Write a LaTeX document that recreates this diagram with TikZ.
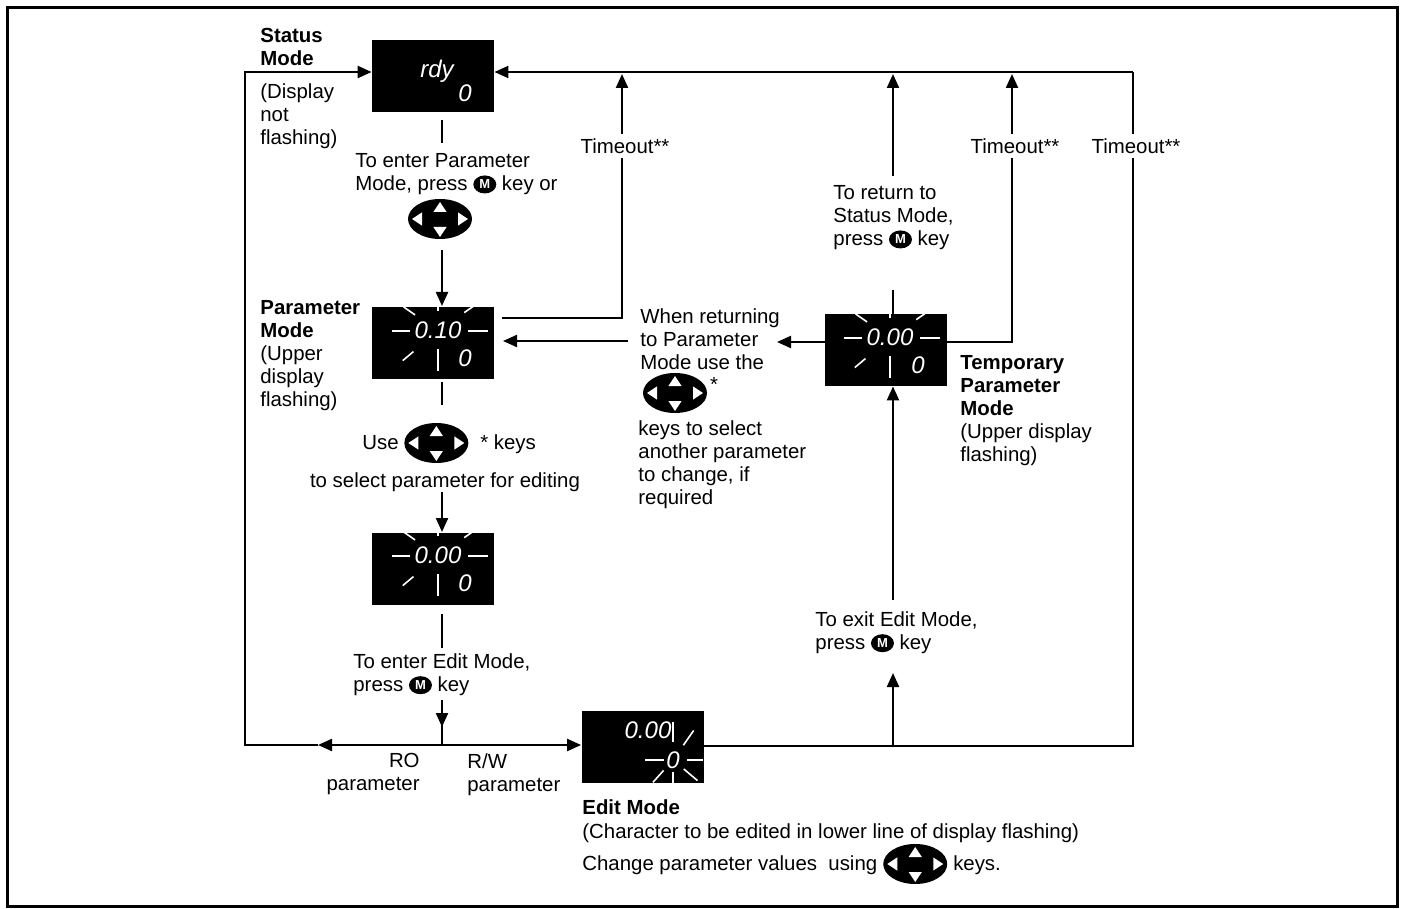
\documentclass[tikz,border=0pt]{standalone}
\usepackage{fontspec}
\setmainfont{Liberation Sans}
\usetikzlibrary{arrows.meta,shapes.geometric,calc}

\tikzset{
  disp/.style={fill=black, minimum width=61pt, minimum height=36pt, inner sep=0pt},
  seg/.style={text=white, inner sep=0pt, font=\fontsize{12}{12}\selectfont\itshape},
  ray/.style={white, line width=0.8pt},
  txt/.style={inner sep=0pt, align=left, font=\fontsize{10.2}{11.5}\selectfont},
  conn/.style={line width=1.1pt},
  arr/.style={conn, -{Triangle[length=7pt,width=6pt]}},
  mkeyst/.style={ellipse, anchor=center, fill=black, text=white, inner sep=0pt,
    minimum width=11.5pt, minimum height=9pt, font=\fontsize{6.5}{6.5}\selectfont\bfseries},
  keypad/.style={ellipse, anchor=center, fill=black, minimum width=32pt, minimum height=20pt,
    inner sep=0pt,
    path picture={
      \fill[white] ([yshift=-1.5pt]path picture bounding box.north) -- ++(3.3pt,-5pt) -- ++(-6.6pt,0pt) -- cycle;
      \fill[white] ([yshift=1pt]path picture bounding box.south) -- ++(3.3pt,5pt) -- ++(-6.6pt,0pt) -- cycle;
      \fill[white] ([xshift=2pt]path picture bounding box.west) -- ++(5pt,3.3pt) -- ++(0pt,-6.6pt) -- cycle;
      \fill[white] ([xshift=-2pt]path picture bounding box.east) -- ++(-5pt,3.3pt) -- ++(0pt,-6.6pt) -- cycle;}}
}

% inline key glyphs
\newcommand{\mkey}{\tikz[baseline=-3pt]\node[mkeyst]{M};}
\newcommand{\padicon}{\tikz[baseline=-3.3pt]\node[keypad]{};}

% flashing rays: box, centre, angle/inner/outer
\newcommand{\flashrays}[3]{%
  \begin{scope}
    \clip (#1.south west) rectangle (#1.north east);
    \foreach \a/\ri/\ro in {#3}
      \draw[ray] ($(#2)+(\a:\ri)$) -- ($(#2)+(\a:\ro)$);
  \end{scope}}

\begin{document}
\begin{tikzpicture}[x=0.5pt, y=-0.5pt]
\useasboundingbox (0,0) rectangle (1403,909);

\def\xm{442}; % main column
\def\xl{245}; % left loop
\def\xt{622}; % first timeout
\def\xr{893}; % return column
\def\xtt{1012}; % second timeout
\def\xe{1133}; % right loop
\def\ytop{72}; % top line
\def\ybot{745}; % bottom line

% frame
\draw[line width=1.5pt] (7,8) rectangle (1397,906);

% displays
\node[disp] (stat) at (433,76.5) {};
\node[seg] (statUp) at (437,71) {rdy};
\node[seg] (statLo) at (465,93) {0};

\node[disp] (par) at (433,343) {};
\node[seg] (parUp) at (438,330) {0.10};
\node[seg] (parLo) at (465,358) {0};
\flashrays{par}{438,331}{0/15pt/25pt, 35/16pt/23pt, 90/10pt/16pt, 145/14pt/21pt, 180/14pt/23pt, 220/16pt/23pt, 270/9pt/20pt}

\node[disp] (sel) at (433,569) {};
\node[seg] (selUp) at (438,555) {0.00};
\node[seg] (selLo) at (465,583) {0};
\flashrays{sel}{438,556}{0/15pt/25pt, 35/16pt/23pt, 90/10pt/16pt, 145/14pt/21pt, 180/14pt/23pt, 220/16pt/23pt, 270/9pt/20pt}

\node[disp] (temp) at (886,350) {};
\node[seg] (tempUp) at (890,337) {0.00};
\node[seg] (tempLo) at (918,365) {0};
\flashrays{temp}{890,338}{0/15pt/25pt, 35/16pt/23pt, 90/10pt/16pt, 145/14pt/21pt, 180/14pt/23pt, 220/16pt/23pt, 270/9pt/20pt}

\node[disp] (edit) at (642.5,747) {};
\node[seg] (editUp) at (648,730) {0.00};
\node[seg] (editLo) at (673,760) {0};
\flashrays{edit}{673,760}{0/7pt/15pt, 55/9pt/18pt, 90/9pt/19pt, 180/4.5pt/14pt, 228/7pt/15pt, 270/6pt/12pt, 320/7pt/16pt}

% labels
\node[txt, anchor=north west] (statLbl) at (260,28) {\textbf{Status}\\\textbf{Mode}};
\node[txt, anchor=north west] (statNote) at (260,83) {(Display\\not\\flashing)};
\node[txt, anchor=north west] (parLbl) at (260,300) {\textbf{Parameter}\\\textbf{Mode}\\(Upper\\display\\flashing)};
\node[txt, anchor=north west] (tempLbl) at (960,355) {\textbf{Temporary}\\\textbf{Parameter}\\\textbf{Mode}\\(Upper display\\flashing)};
\node[txt, anchor=north west] (enterPar) at (355,153) {To enter Parameter\\Mode, press \mkey{} key or};
\node[keypad] (padA) at (440,219) {};
\node[txt, anchor=west] (useKeys) at (362,443) {Use \padicon{}\hspace{6pt}* keys};
\node[txt, anchor=north] (selTxt) at (445,472) {to select parameter for editing};
\node[txt, anchor=north west] (enterEdit) at (353,653) {To enter Edit Mode,\\press \mkey{} key};
\node[txt, anchor=north east, align=right] (roTxt) at (420,753) {RO\\parameter};
\node[txt, anchor=north west] (rwTxt) at (467,753) {R/W\\parameter};
\node[txt, anchor=north west] (editLbl) at (582,799) {\textbf{Edit Mode}};
\node[txt, anchor=north west] (editNote) at (582,823) {(Character to be edited in lower line of display flashing)};
\node[txt, anchor=west] (changeTxt) at (582,864) {Change parameter values~ using\hspace{3pt}\padicon{}\hspace{3pt}keys.};
\node[txt, anchor=north west] (retPar) at (640,308) {When returning\\to Parameter\\Mode use the};
\node[keypad] (padB) at (675,393) {};
\node[txt] (star) at (714,384) {*};
\node[txt, anchor=north west] (selAnother) at (638,420) {keys to select\\another parameter\\to change, if\\required};
\node[txt, anchor=north west] (retStat) at (833,185) {To return to\\Status Mode,\\press \mkey{} key};
\node[txt, anchor=north west] (exitEdit) at (815,611) {To exit Edit Mode,\\press \mkey{} key};
\node[txt] (toA) at (625,146) {Timeout**};
\node[txt] (toB) at (1015,146) {Timeout**};
\node[txt] (toC) at (1136,146) {Timeout**};

% loop corners
\coordinate (topR) at (\xe,\ytop);
\coordinate (botR) at (\xe,746);
\coordinate (topL) at (\xl,\ytop);
\coordinate (botL) at (\xl,\ybot);
\coordinate (split) at (\xm,\ybot);
\coordinate (roTip) at (318,\ybot);
\coordinate (exitJ) at (\xr,746);

% main column
\draw[conn] (\xm,120) -- (\xm,143);
\draw[arr] (\xm,250) -- (\xm,306);
\draw[conn] (\xm,382) -- (\xm,405);
\draw[arr] (\xm,492) -- (\xm,532);
\draw[conn] (\xm,614) -- (\xm,648);
\draw[arr] (\xm,700) -- (\xm,727);
\draw[conn] (\xm,720) -- (split);

% RO back to status, R/W on to edit
\draw[arr] (split) -- (roTip);
\draw[arr] (roTip) -- (botL) -- (topL) -- (topL -| stat.west);
\draw[arr] (split) -- (edit.west |- split);

% timeouts to status
\draw[arr] (topR) -- (topR -| stat.east);
\draw[conn] (edit.east |- botR) -- (botR) -- (\xe,158);
\draw[conn] (\xe,134) -- (topR);
\draw[conn] (502,318) -- (\xt,318) -- (\xt,158);
\draw[arr] (\xt,134) -- (\xt,74);
\draw[conn] (temp.east |- 0,342) -- (\xtt,342) -- (\xtt,158);
\draw[arr] (\xtt,134) -- (\xtt,74);

% edit to temporary, temporary to status
\draw[arr] (exitJ) -- (\xr,673);
\draw[arr] (\xr,600) -- (temp.south -| exitJ);
\draw[conn] (temp.north -| exitJ) -- (\xr,290);
\draw[arr] (\xr,176) -- (\xr,74);

% temporary back to parameter
\draw[arr] (temp.west |- 0,342) -- (777,342);
\draw[arr] (628,341) -- (503,341);

\end{tikzpicture}
\end{document}
